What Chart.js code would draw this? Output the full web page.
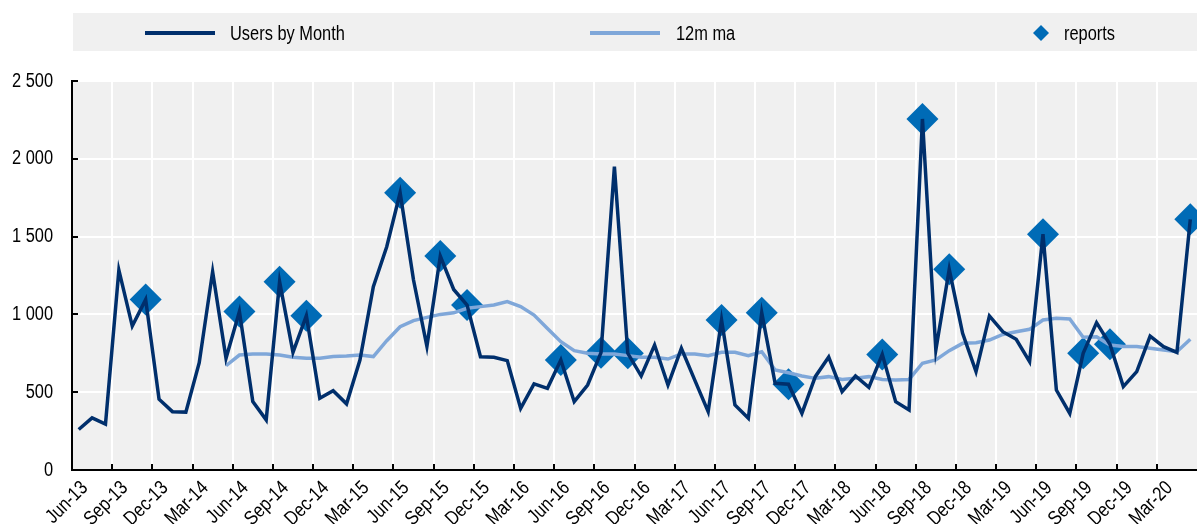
<!DOCTYPE html>
<html>
<head>
<meta charset="utf-8">
<script src="https://cdn.jsdelivr.net/npm/chart.js@4.4.0/dist/chart.umd.min.js"></script>
<style>
  html, body { margin: 0; padding: 0; background: #fff; }
  #wrap { width: 1197px; height: 524px; }
</style>
</head>
<body>
<div id="wrap"><canvas id="myChart" width="1197" height="524"></canvas></div>
<script>
const months = [
  'Jun-13', 'Jul-13', 'Aug-13', 'Sep-13', 'Oct-13', 'Nov-13', 'Dec-13',
  'Jan-14', 'Feb-14', 'Mar-14', 'Apr-14', 'May-14', 'Jun-14', 'Jul-14', 'Aug-14', 'Sep-14', 'Oct-14', 'Nov-14', 'Dec-14',
  'Jan-15', 'Feb-15', 'Mar-15', 'Apr-15', 'May-15', 'Jun-15', 'Jul-15', 'Aug-15', 'Sep-15', 'Oct-15', 'Nov-15', 'Dec-15',
  'Jan-16', 'Feb-16', 'Mar-16', 'Apr-16', 'May-16', 'Jun-16', 'Jul-16', 'Aug-16', 'Sep-16', 'Oct-16', 'Nov-16', 'Dec-16',
  'Jan-17', 'Feb-17', 'Mar-17', 'Apr-17', 'May-17', 'Jun-17', 'Jul-17', 'Aug-17', 'Sep-17', 'Oct-17', 'Nov-17', 'Dec-17',
  'Jan-18', 'Feb-18', 'Mar-18', 'Apr-18', 'May-18', 'Jun-18', 'Jul-18', 'Aug-18', 'Sep-18', 'Oct-18', 'Nov-18', 'Dec-18',
  'Jan-19', 'Feb-19', 'Mar-19', 'Apr-19', 'May-19', 'Jun-19', 'Jul-19', 'Aug-19', 'Sep-19', 'Oct-19', 'Nov-19', 'Dec-19',
  'Jan-20', 'Feb-20', 'Mar-20', 'Apr-20', 'May-20'
];

const usersByMonth = [
  260, 335, 295, 1285, 925, 1095, 455,
  375, 372, 690, 1275, 718, 1018, 440, 322, 1210, 756, 992, 461,
  510, 425, 707, 1178, 1435, 1782, 1221, 795, 1375, 1160, 1060, 728,
  724, 703, 396, 553, 525, 707, 439, 546, 754, 1949, 750, 604,
  803, 546, 782, 578, 375, 964, 418, 332, 1011, 557, 551, 364,
  600, 726, 503, 604, 531, 743, 439, 386, 2256, 771, 1290, 878,
  632, 990, 889, 840, 696, 1515, 514, 364, 750, 947, 808, 536,
  632, 861, 793, 756, 1611
];

const movingAvg = [
  null, null, null, null, null, null, null,
  null, null, null, null, 670, 739, 746, 746, 739, 724, 718, 718,
  729, 733, 739, 729, 831, 921, 960, 981, 1000, 1010, 1039, 1050,
  1060, 1082, 1050, 996, 910, 825, 767, 750, 746, 746, 735, 724,
  724, 713, 746, 746, 735, 756, 756, 735, 760, 643, 625, 604,
  589, 600, 582, 589, 600, 582, 578, 582, 686, 707, 767, 814,
  818, 835, 871, 889, 904, 964, 975, 971, 853, 857, 803, 793,
  793, 782, 771, 760, 840
];

const reports = [
  null, null, null, null, null, 1095, null,
  null, null, null, null, null, 1018, null, null, 1210, null, 992, null,
  null, null, null, null, null, 1782, null, null, 1375, null, 1060, null,
  null, null, null, null, null, 707, null, null, 754, null, 750, null,
  null, null, null, null, null, 964, null, null, 1011, null, 551, null,
  null, null, null, null, null, 743, null, null, 2256, null, 1290, null,
  null, null, null, null, null, 1515, null, null, 750, null, 808, null,
  null, null, null, null, 1611
];

const yTicks = [0, 500, 1000, 1500, 2000, 2500];

const FONT = "'Liberation Sans', Arial, sans-serif";
const TEXT_SIZE = 20;
const NARROW = 0.82; // squeeze to look like Arial Narrow

function fmtThousands(v) {
  if (v < 1000) return String(v);
  return Math.floor(v / 1000) + ' ' + String(v % 1000).padStart(3, '0');
}

function narrowText(ctx, text, x, y, angle, align) {
  ctx.save();
  ctx.translate(x, y);
  if (angle) ctx.rotate(angle);
  ctx.scale(NARROW, 1);
  ctx.textAlign = align;
  ctx.textBaseline = 'middle';
  ctx.fillText(text, 0, 0);
  ctx.restore();
}

// plot background, legend box, inward tick marks, axis labels and legend
const chartDecor = {
  id: 'chartDecor',
  beforeDraw(chart) {
    const { ctx, chartArea: a } = chart;
    ctx.save();
    ctx.fillStyle = '#f0f0f0';
    ctx.fillRect(a.left, a.top, a.right - a.left, a.bottom - a.top);
    ctx.fillRect(73, 13, chart.width - 73, 38);
    ctx.restore();
  },
  beforeDatasetsDraw(chart) {
    const { ctx, chartArea: a, scales } = chart;
    ctx.save();
    ctx.strokeStyle = '#000';
    ctx.lineWidth = 2;
    ctx.beginPath();
    scales.y.ticks.forEach(t => {
      const y = Math.round(scales.y.getPixelForValue(t.value));
      ctx.moveTo(a.left, y);
      ctx.lineTo(a.left + 6, y);
    });
    for (let i = 3; i < months.length; i += 3) {
      const x = Math.round((scales.x.getPixelForValue(i - 1) + scales.x.getPixelForValue(i)) / 2);
      ctx.moveTo(x, a.bottom);
      ctx.lineTo(x, a.bottom - 6);
    }
    ctx.stroke();
    ctx.restore();
  },
  afterDraw(chart) {
    const { ctx, chartArea: a, scales } = chart;
    const ds = chart.data.datasets;
    ctx.save();
    ctx.font = TEXT_SIZE + 'px ' + FONT;
    ctx.fillStyle = '#000';

    // y tick labels
    scales.y.ticks.forEach(t => {
      narrowText(ctx, fmtThousands(t.value), a.left - 19, scales.y.getPixelForValue(t.value), 0, 'right');
    });
    // x tick labels, every third month
    months.forEach((m, i) => {
      if (i % 3 !== 0) return;
      const x = scales.x.getPixelForValue(i);
      narrowText(ctx, m, x + 6, a.bottom + 15, -Math.PI / 4, 'right');
    });

    // legend
    const cy = 33;
    ctx.lineWidth = 4;
    ctx.strokeStyle = ds[0].borderColor;
    ctx.beginPath(); ctx.moveTo(145, cy); ctx.lineTo(215, cy); ctx.stroke();
    narrowText(ctx, ds[0].label, 230, cy + 1, 0, 'left');

    ctx.strokeStyle = ds[1].borderColor;
    ctx.beginPath(); ctx.moveTo(590, cy); ctx.lineTo(660, cy); ctx.stroke();
    narrowText(ctx, ds[1].label, 676, cy + 1, 0, 'left');

    ctx.fillStyle = ds[2].backgroundColor;
    ctx.beginPath();
    ctx.moveTo(1041, cy - 8); ctx.lineTo(1049, cy); ctx.lineTo(1041, cy + 8); ctx.lineTo(1033, cy);
    ctx.closePath(); ctx.fill();
    ctx.fillStyle = '#000';
    narrowText(ctx, ds[2].label, 1064, cy + 1, 0, 'left');
    ctx.restore();
  }
};

const ctx = document.getElementById('myChart').getContext('2d');
new Chart(ctx, {
  type: 'line',
  data: {
    labels: months,
    datasets: [
      {
        label: 'Users by Month',
        data: usersByMonth,
        borderColor: '#002f6c',
        borderWidth: 3.5,
        pointRadius: 0,
        tension: 0
      },
      {
        label: '12m ma',
        data: movingAvg,
        borderColor: '#7fa7d9',
        borderWidth: 3.5,
        pointRadius: 0,
        tension: 0
      },
      {
        label: 'reports',
        data: reports,
        showLine: false,
        pointStyle: 'rectRot',
        pointRadius: 16,
        backgroundColor: '#006bb6',
        borderWidth: 0,
        clip: false
      }
    ]
  },
  options: {
    responsive: false,
    animation: false,
    layout: { autoPadding: false, padding: { top: 81, right: 0, left: 0, bottom: 0 } },
    plugins: { legend: { display: false }, tooltip: { enabled: false } },
    scales: {
      x: {
        offset: true,
        grid: {
          offset: true,
          drawTicks: false,
          lineWidth: 2,
          color: c => (c.index % 3 === 0 ? '#ffffff' : 'rgba(0,0,0,0)')
        },
        border: { color: '#000', width: 2 },
        ticks: { display: false, autoSkip: false },
        afterFit: s => { s.height = 54; s.paddingLeft = 0; s.paddingRight = 0; }
      },
      y: {
        min: 0,
        max: 2500,
        afterBuildTicks: s => { s.ticks = yTicks.map(v => ({ value: v })); },
        grid: { drawTicks: false, lineWidth: 2, color: '#ffffff' },
        border: { color: '#000', width: 2 },
        ticks: { display: false },
        afterFit: s => { s.width = 72; s.paddingTop = 0; s.paddingBottom = 0; }
      }
    }
  },
  plugins: [chartDecor]
});
</script>
</body>
</html>
